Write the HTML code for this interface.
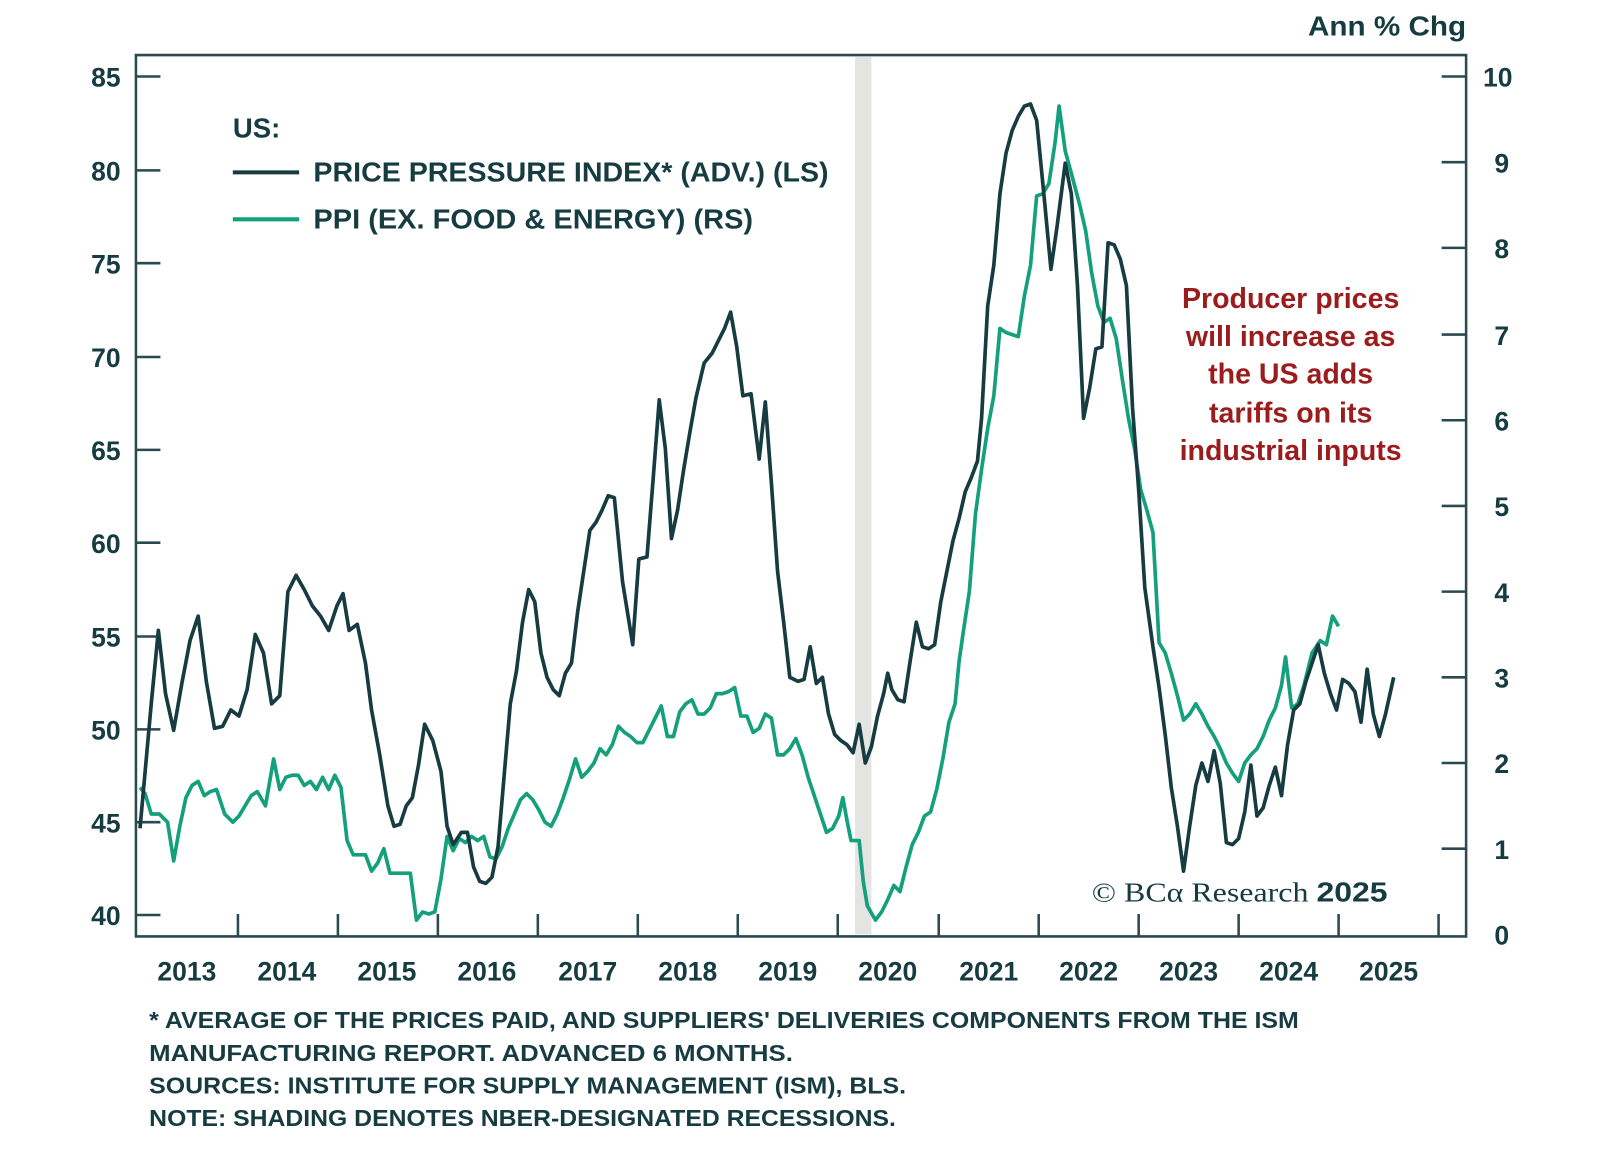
<!DOCTYPE html>
<html><head><meta charset="utf-8"><style>
html,body{margin:0;padding:0;background:#fff;}
svg{display:block;}
text{font-family:"Liberation Sans",sans-serif;fill:#163c42;}
</style></head><body>
<svg width="1600" height="1169" viewBox="0 0 1568 1146" xmlns="http://www.w3.org/2000/svg">
<rect x="0" y="0" width="1568" height="1146" fill="#fff"/>
<rect x="838" y="56" width="16" height="860" fill="#e4e4e2"/>
<g stroke="#2a4a50" stroke-width="2.5" fill="none">
<path d="M133,54 H1437 V918 H133 Z"/>
<path d="M133,75h24M133,167h24M133,258h24M133,350h24M133,441h24M133,532h24M133,624h24M133,715h24M133,806h24M133,897h24"/>
<path d="M1413,75h24M1413,159h24M1413,243h24M1413,328h24M1413,412h24M1413,496h24M1413,580h24M1413,664h24M1413,748h24M1413,832h24"/>
<path d="M233,918v-22M331,918v-22M429,918v-22M527,918v-22M625,918v-22M723,918v-22M821,918v-22M920,918v-22M1018,918v-22M1116,918v-22M1214,918v-22M1312,918v-22M1410,918v-22"/>
</g>
<g font-size="26" font-weight="600" text-anchor="end">
<text x="118" y="85">85</text><text x="118" y="177">80</text><text x="118" y="268">75</text><text x="118" y="360">70</text><text x="118" y="451">65</text><text x="118" y="542">60</text><text x="118" y="634">55</text><text x="118" y="725">50</text><text x="118" y="816">45</text><text x="118" y="907">40</text>
</g>
<g font-size="26" font-weight="600" text-anchor="middle">
<text x="1468" y="85">10</text><text x="1472" y="169">9</text><text x="1472" y="253">8</text><text x="1472" y="338">7</text><text x="1472" y="422">6</text><text x="1472" y="506">5</text><text x="1472" y="590">4</text><text x="1472" y="674">3</text><text x="1472" y="758">2</text><text x="1472" y="842">1</text><text x="1472" y="926">0</text>
</g>
<text x="1282" y="35" font-size="27" font-weight="600" textLength="155" lengthAdjust="spacingAndGlyphs">Ann % Chg</text>
<g font-size="26" font-weight="600" text-anchor="middle">
<text x="183" y="961">2013</text><text x="281" y="961">2014</text><text x="379" y="961">2015</text><text x="477" y="961">2016</text><text x="576" y="961">2017</text><text x="674" y="961">2018</text><text x="772" y="961">2019</text><text x="870" y="961">2020</text><text x="969" y="961">2021</text><text x="1067" y="961">2022</text><text x="1165" y="961">2023</text><text x="1263" y="961">2024</text><text x="1361" y="961">2025</text>
</g>
<polyline fill="none" stroke="#14a07c" stroke-width="3.6" stroke-linejoin="round" points="137,772 142,778 148,798 156,798 164,806 170,844 176,810 182,782 188,770 194,766 200,780 206,776 212,774 220,798 228,806 234,800 240,790 246,780 252,776 260,790 268,744 274,774 280,762 286,760 292,760 298,770 304,766 310,774 316,762 322,774 328,760 334,772 340,824 346,838 352,838 358,838 364,854 370,846 376,832 382,856 388,856 396,856 402,856 408,902 414,894 420,896 426,894 432,862 438,820 444,834 450,822 456,826 462,820 468,824 474,820 480,840 486,842 492,830 498,812 504,798 510,784 516,778 522,784 528,794 534,806 540,810 546,798 552,782 558,764 564,744 570,762 576,756 582,748 588,734 594,740 600,730 606,712 612,718 618,722 624,728 630,728 636,716 642,704 648,692 654,722 660,722 666,698 672,690 678,686 684,700 690,700 696,694 702,680 708,680 714,678 720,674 726,702 732,702 738,718 744,714 750,700 756,704 762,740 768,740 774,734 780,724 786,740 792,762 798,780 804,798 810,816 816,812 822,800 826,782 830,804 834,824 842,824 846,864 850,888 858,902 864,894 870,882 876,868 882,874 888,850 894,828 900,816 906,800 912,796 918,774 924,744 930,708 936,690 940,648 944,620 950,580 956,504 962,460 968,420 974,388 980,322 986,326 992,328 998,330 1004,290 1010,260 1016,192 1022,190 1028,180 1034,140 1038,104 1044,148 1050,170 1058,200 1064,226 1070,268 1076,300 1082,316 1088,312 1094,332 1100,372 1106,410 1112,440 1118,480 1124,500 1130,522 1136,630 1142,640 1148,660 1154,682 1160,706 1166,700 1172,690 1178,700 1184,712 1190,722 1196,734 1202,748 1208,758 1214,766 1220,748 1226,740 1232,734 1238,722 1244,706 1250,694 1256,672 1260,644 1266,694 1272,690 1278,672 1286,640 1294,628 1300,632 1306,604 1312,614"/>
<polyline fill="none" stroke="#163c42" stroke-width="3.6" stroke-linejoin="round" points="137,812 148,690 155,618 162,680 170,716 178,670 186,628 194,604 202,668 210,714 218,712 226,696 234,702 242,676 250,622 258,640 266,690 274,682 282,580 290,564 298,578 306,594 314,604 322,618 330,594 336,582 342,618 350,612 358,650 364,696 372,740 380,790 386,810 392,808 398,790 404,782 410,750 416,710 424,726 432,756 438,810 444,828 452,816 458,816 464,850 470,864 476,866 482,860 488,830 494,760 500,690 506,658 512,610 518,578 524,590 530,640 536,664 542,676 548,682 554,660 560,650 566,600 572,560 578,520 584,512 590,500 596,486 602,488 610,570 620,632 626,548 634,546 640,470 646,392 652,440 658,528 664,500 670,460 676,424 682,390 690,356 698,346 704,334 710,322 716,306 722,340 728,388 736,386 744,450 750,394 756,474 762,560 768,610 774,664 782,668 788,666 794,634 800,670 806,664 812,700 818,720 824,726 830,730 836,738 842,710 848,748 854,732 860,702 866,680 870,660 874,676 880,686 886,688 892,648 898,610 904,634 910,636 916,632 922,590 928,560 934,530 940,508 946,482 952,468 958,452 962,410 968,300 974,260 980,190 986,150 992,128 998,114 1004,104 1010,102 1016,118 1024,200 1030,264 1036,222 1044,160 1050,190 1056,280 1062,410 1068,380 1074,342 1080,340 1086,238 1092,240 1098,254 1104,280 1110,400 1116,480 1122,576 1130,634 1136,674 1142,720 1148,772 1154,810 1160,854 1166,810 1172,770 1178,748 1184,766 1190,736 1196,768 1202,826 1208,828 1214,822 1220,796 1226,750 1232,800 1238,792 1244,770 1250,752 1256,780 1262,730 1268,696 1274,690 1280,668 1286,650 1292,632 1298,660 1304,680 1310,696 1316,666 1322,670 1328,678 1334,708 1340,656 1346,700 1352,722 1358,700 1366,664"/>
<text x="228" y="135" font-size="27" font-weight="600">US:</text>
<line x1="228" y1="169" x2="293" y2="169" stroke="#163c42" stroke-width="4"/>
<line x1="228" y1="215" x2="293" y2="215" stroke="#14a07c" stroke-width="4"/>
<text x="307" y="178" font-size="27" font-weight="600" textLength="505" lengthAdjust="spacingAndGlyphs">PRICE PRESSURE INDEX* (ADV.) (LS)</text>
<text x="307" y="224" font-size="27" font-weight="600" textLength="431" lengthAdjust="spacingAndGlyphs">PPI (EX. FOOD &amp; ENERGY) (RS)</text>
<g font-size="28" font-weight="600" text-anchor="middle">
<text x="1265" y="302" style="fill:#9b1c1c">Producer prices</text>
<text x="1265" y="339" style="fill:#9b1c1c">will increase as</text>
<text x="1265" y="376" style="fill:#9b1c1c">the US adds</text>
<text x="1265" y="414" style="fill:#9b1c1c">tariffs on its</text>
<text x="1265" y="451" style="fill:#9b1c1c">industrial inputs</text>
</g>
<text x="1070" y="884" font-size="27" style="font-family:'Liberation Serif',serif" textLength="290" lengthAdjust="spacingAndGlyphs">© BCα Research <tspan font-family="Liberation Sans" font-weight="600">2025</tspan></text>
<g font-size="23" font-weight="600">
<text x="146" y="1008" textLength="1127" lengthAdjust="spacingAndGlyphs">* AVERAGE OF THE PRICES PAID, AND SUPPLIERS' DELIVERIES COMPONENTS FROM THE ISM</text>
<text x="146" y="1040" textLength="631" lengthAdjust="spacingAndGlyphs">MANUFACTURING REPORT. ADVANCED 6 MONTHS.</text>
<text x="146" y="1072" textLength="742" lengthAdjust="spacingAndGlyphs">SOURCES: INSTITUTE FOR SUPPLY MANAGEMENT (ISM), BLS.</text>
<text x="146" y="1104" textLength="732" lengthAdjust="spacingAndGlyphs">NOTE: SHADING DENOTES NBER-DESIGNATED RECESSIONS.</text>
</g>
</svg>
</body></html>
